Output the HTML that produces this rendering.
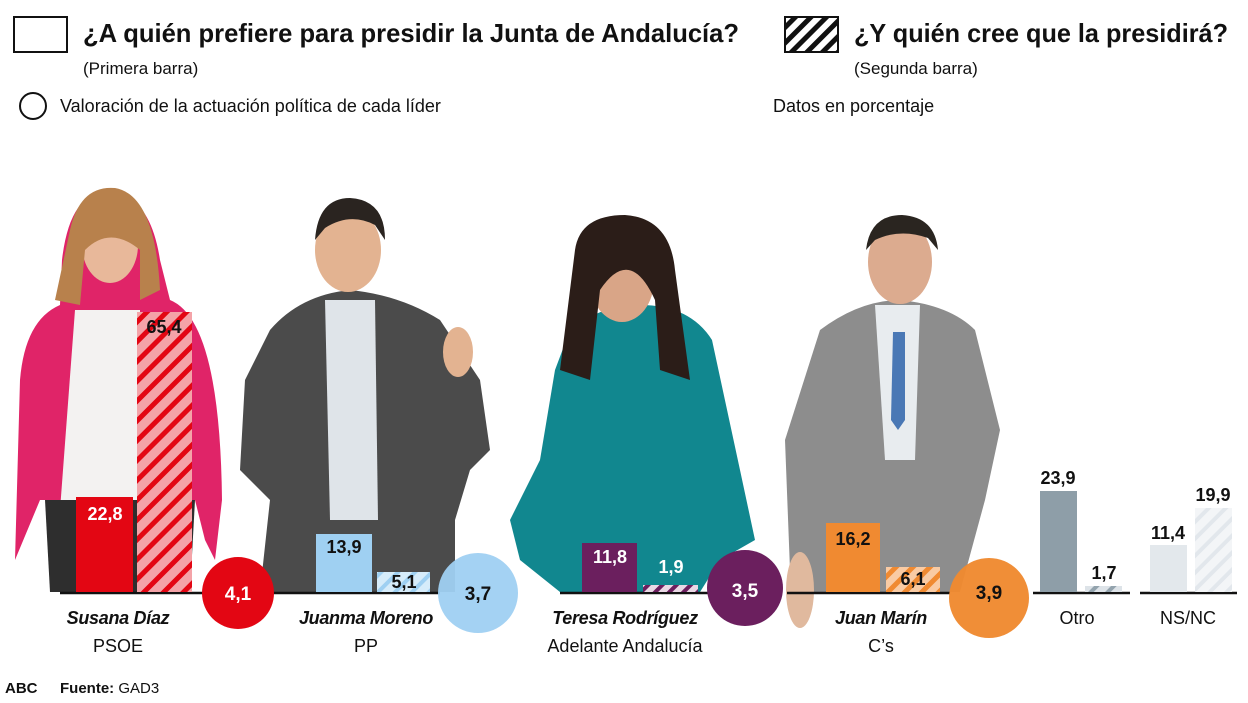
<!DOCTYPE html><html><head><meta charset="utf-8"><style>
body{margin:0;background:#fff;width:1248px;height:698px;overflow:hidden;font-family:"Liberation Sans",sans-serif}
</style></head><body>
<svg width="1248" height="698" xmlns="http://www.w3.org/2000/svg" font-family="Liberation Sans, sans-serif">
<defs>
<pattern id="hr" width="14" height="14" patternUnits="userSpaceOnUse" patternTransform="rotate(45)"><rect width="14" height="14" fill="#f4a3a8"/><rect width="5" height="14" fill="#e30613"/></pattern>
<pattern id="hb" width="12" height="12" patternUnits="userSpaceOnUse" patternTransform="rotate(45)"><rect width="12" height="12" fill="#d6ecfa"/><rect width="4" height="12" fill="#9fd0f2"/></pattern>
<pattern id="hp" width="10" height="10" patternUnits="userSpaceOnUse" patternTransform="rotate(45)"><rect width="10" height="10" fill="#e9d8e5"/><rect width="4" height="10" fill="#6b1f5e"/></pattern>
<pattern id="ho" width="12" height="12" patternUnits="userSpaceOnUse" patternTransform="rotate(45)"><rect width="12" height="12" fill="#f9cba4"/><rect width="5" height="12" fill="#f08a31"/></pattern>
<pattern id="hg" width="12" height="12" patternUnits="userSpaceOnUse" patternTransform="rotate(45)"><rect width="12" height="12" fill="#dde3e8"/><rect width="4" height="12" fill="#93a3ad"/></pattern>
<pattern id="hl" width="12" height="12" patternUnits="userSpaceOnUse" patternTransform="rotate(45)"><rect width="12" height="12" fill="#f3f5f7"/><rect width="4" height="12" fill="#e2e7ec"/></pattern>
<pattern id="hk" width="11" height="11" patternUnits="userSpaceOnUse" patternTransform="rotate(45)"><rect width="11" height="11" fill="#fff"/><rect width="5" height="11" fill="#111"/></pattern>
</defs>
<!-- header -->
<rect x="14" y="17" width="53" height="35" fill="#fff" stroke="#111" stroke-width="2"/>
<text x="83" y="42" font-size="26" font-weight="bold" fill="#111" textLength="656" lengthAdjust="spacingAndGlyphs">¿A quién prefiere para presidir la Junta de Andalucía?</text>
<text x="83" y="74" font-size="17" fill="#111">(Primera barra)</text>
<rect x="785" y="17" width="53" height="35" fill="url(#hk)" stroke="#111" stroke-width="2"/>
<text x="854" y="42" font-size="26" font-weight="bold" fill="#111" textLength="374" lengthAdjust="spacingAndGlyphs">¿Y quién cree que la presidirá?</text>
<text x="854" y="74" font-size="17" fill="#111">(Segunda barra)</text>
<circle cx="33" cy="106" r="13" fill="none" stroke="#111" stroke-width="2"/>
<text x="60" y="112" font-size="18" fill="#111">Valoración de la actuación política de cada líder</text>
<text x="773" y="112" font-size="18" fill="#111">Datos en porcentaje</text>
<!-- Susana figure -->
<path d="M62,260 Q70,190 110,192 Q150,195 160,260 L170,300 Q220,320 222,500 L215,560 L205,540 L195,500 L40,500 L15,560 L20,380 Q25,320 60,305 Z" fill="#e02468"/>
<path d="M75,310 L140,310 L140,510 L60,510 Z" fill="#f3f2f1"/>
<path d="M45,500 L195,500 L190,592 L50,592 Z" fill="#2e2e2e"/>
<ellipse cx="110" cy="245" rx="28" ry="38" fill="#e8b89a"/>
<path d="M70,230 Q80,185 115,188 Q155,195 160,290 L140,300 L140,250 Q110,225 85,250 L80,305 L55,300 Z" fill="#b8814c"/>
<!-- Juanma figure -->
<path d="M270,330 Q300,295 350,290 Q400,295 440,320 L480,380 L490,450 L470,470 L455,520 L455,592 L260,592 L270,500 L240,470 L245,380 Z" fill="#4b4b4b"/>
<path d="M325,300 L375,300 L378,520 L330,520 Z" fill="#dfe4e9"/>
<ellipse cx="348" cy="250" rx="33" ry="42" fill="#e3b391"/>
<path d="M315,240 Q318,198 350,198 Q385,200 385,240 L375,225 Q350,212 325,228 Z" fill="#2a2420"/>
<ellipse cx="458" cy="352" rx="15" ry="25" fill="#e3b391"/>
<!-- Teresa figure -->
<path d="M570,330 Q600,305 640,305 Q690,305 712,340 L740,470 L755,540 L720,560 L700,592 L560,592 L520,560 L510,520 L540,460 L555,370 Z" fill="#11878f"/>
<ellipse cx="622" cy="280" rx="32" ry="42" fill="#d9a587"/>
<path d="M575,250 Q580,215 625,215 Q670,218 675,270 L690,380 L660,370 L655,300 Q630,245 600,290 L590,380 L560,370 Z" fill="#2b1d18"/>
<!-- Juan figure -->
<path d="M820,330 Q860,300 900,300 Q950,305 975,330 L1000,430 L985,500 L960,592 L800,592 L790,570 L785,440 Z" fill="#8d8d8d"/>
<path d="M875,305 L920,305 L915,460 L885,460 Z" fill="#e8ecef"/>
<path d="M893,332 L905,332 L905,420 L898,430 L891,420 Z" fill="#4a78b5"/>
<ellipse cx="900" cy="262" rx="32" ry="42" fill="#dcab8f"/>
<path d="M866,250 Q870,215 902,215 Q935,217 938,250 L928,238 Q900,228 875,240 Z" fill="#2a2520"/>
<ellipse cx="800" cy="590" rx="14" ry="38" fill="#e0b99e"/>
<!-- baselines -->
<g stroke="#111" stroke-width="2.5">
<line x1="60" y1="593" x2="205" y2="593"/><line x1="262" y1="593" x2="440" y2="593"/>
<line x1="560" y1="593" x2="710" y2="593"/><line x1="787" y1="593" x2="950" y2="593"/>
<line x1="1033" y1="593" x2="1130" y2="593"/><line x1="1140" y1="593" x2="1237" y2="593"/>
</g>
<!-- bars -->
<rect x="76" y="497" width="57" height="95" fill="#e30613"/>
<rect x="137" y="312" width="55" height="280" fill="url(#hr)"/>
<rect x="316" y="534" width="56" height="58" fill="#9fd0f2"/>
<rect x="377" y="572" width="53" height="20" fill="url(#hb)"/>
<rect x="582" y="543" width="55" height="49" fill="#6b1f5e"/>
<rect x="643" y="585" width="55" height="7" fill="url(#hp)"/>
<rect x="826" y="523" width="54" height="69" fill="#f08a31"/>
<rect x="886" y="567" width="54" height="25" fill="url(#ho)"/>
<rect x="1040" y="491" width="37" height="101" fill="#8e9ea8"/>
<rect x="1085" y="586" width="37" height="6" fill="url(#hg)"/>
<rect x="1150" y="545" width="37" height="47" fill="#e3e8ec"/>
<rect x="1195" y="508" width="37" height="84" fill="url(#hl)"/>
<!-- bar labels -->
<g font-size="18" font-weight="bold" text-anchor="middle">
<text x="105" y="520" fill="#fff">22,8</text>
<text x="164" y="333" fill="#111">65,4</text>
<text x="344" y="553" fill="#111">13,9</text>
<text x="404" y="588" fill="#111">5,1</text>
<text x="610" y="563" fill="#fff">11,8</text>
<text x="671" y="573" fill="#fff">1,9</text>
<text x="853" y="545" fill="#111">16,2</text>
<text x="913" y="585" fill="#111">6,1</text>
<text x="1058" y="484" fill="#111">23,9</text>
<text x="1104" y="579" fill="#111">1,7</text>
<text x="1168" y="539" fill="#111">11,4</text>
<text x="1213" y="501" fill="#111">19,9</text>
</g>
<!-- circles -->
<circle cx="238" cy="593" r="36" fill="#e30613"/>
<circle cx="478" cy="593" r="40" fill="#9fd0f2" opacity="0.95"/>
<circle cx="745" cy="588" r="38" fill="#6b1f5e"/>
<circle cx="989" cy="598" r="40" fill="#f08a31" opacity="0.97"/>
<g font-size="19" font-weight="bold" text-anchor="middle">
<text x="238" y="600" fill="#fff">4,1</text>
<text x="478" y="600" fill="#111">3,7</text>
<text x="745" y="597" fill="#fff">3,5</text>
<text x="989" y="599" fill="#111">3,9</text>
</g>
<!-- names -->
<g font-size="18" text-anchor="middle" fill="#111">
<text x="118" y="624" font-weight="bold" font-style="italic" letter-spacing="-0.3">Susana Díaz</text>
<text x="118" y="652">PSOE</text>
<text x="366" y="624" font-weight="bold" font-style="italic" letter-spacing="-0.3">Juanma Moreno</text>
<text x="366" y="652">PP</text>
<text x="625" y="624" font-weight="bold" font-style="italic" letter-spacing="-0.3">Teresa Rodríguez</text>
<text x="625" y="652">Adelante Andalucía</text>
<text x="881" y="624" font-weight="bold" font-style="italic" letter-spacing="-0.3">Juan Marín</text>
<text x="881" y="652">C’s</text>
<text x="1077" y="624">Otro</text>
<text x="1188" y="624">NS/NC</text>
</g>
<text x="5" y="693" font-size="15" font-weight="bold" fill="#111">ABC</text>
<text x="60" y="693" font-size="15" fill="#111"><tspan font-weight="bold">Fuente:</tspan> GAD3</text>
</svg>
</body></html>
